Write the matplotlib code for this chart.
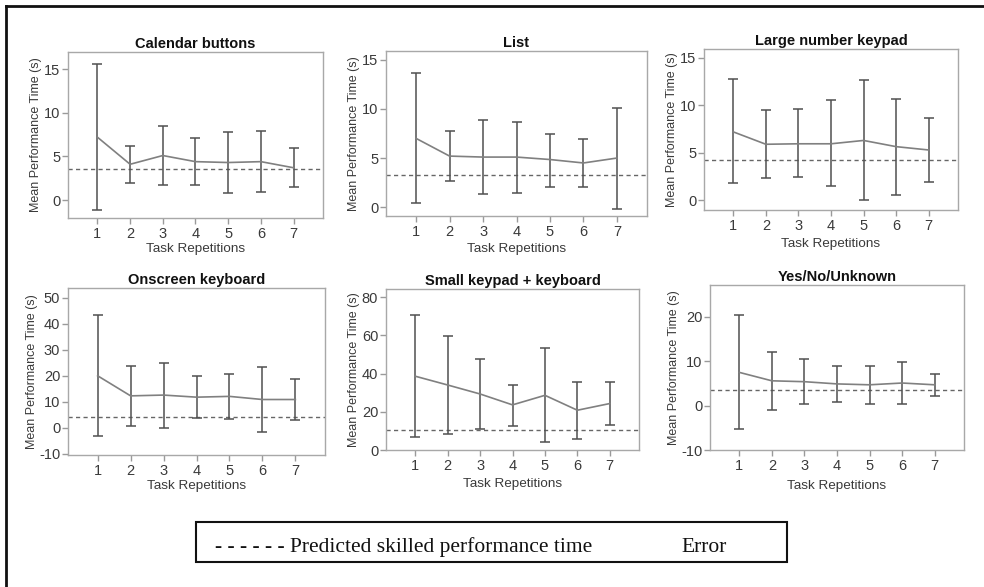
import matplotlib
matplotlib.use("Agg")
import matplotlib.pyplot as plt
from matplotlib.patches import Rectangle
from matplotlib.lines import Line2D

plt.rcParams['font.family'] = ['Liberation Sans', 'DejaVu Sans']
plt.rcParams['axes.unicode_minus'] = False

W, H = 984, 587

repetitions = [1, 2, 3, 4, 5, 6, 7]

titles = ["Calendar buttons", "List", "Large number keypad",
          "Onscreen keyboard", "Small keypad + keyboard", "Yes/No/Unknown"]

cal_mean = [7.2, 4.1, 5.1, 4.4, 4.3, 4.4, 3.7]
cal_upper = [15.6, 6.2, 8.5, 7.1, 7.8, 7.9, 6.0]
cal_lower = [-1.1, 2.0, 1.7, 1.7, 0.8, 0.9, 1.5]
cal_pred = 3.55

list_mean = [7.0, 5.2, 5.1, 5.1, 4.85, 4.5, 5.0]
list_upper = [13.7, 7.8, 8.9, 8.7, 7.5, 6.9, 10.1]
list_lower = [0.4, 2.65, 1.3, 1.45, 2.1, 2.1, -0.15]
list_pred = 3.25

lnk_mean = [7.2, 5.9, 5.95, 5.95, 6.3, 5.65, 5.3]
lnk_upper = [12.7, 9.5, 9.55, 10.5, 12.6, 10.6, 8.7]
lnk_lower = [1.8, 2.4, 2.5, 1.5, 0.0, 0.55, 1.95]
lnk_pred = 4.3

osk_mean = [20.0, 12.3, 12.6, 11.8, 12.1, 10.9, 10.9]
osk_upper = [43.5, 23.8, 24.9, 19.8, 20.5, 23.5, 18.8]
osk_lower = [-3.2, 0.8, 0.0, 3.9, 3.6, -1.5, 3.2]
osk_pred = 4.3

skk_mean = [38.6, 34.0, 29.3, 23.6, 28.6, 20.8, 24.3]
skk_upper = [70.4, 59.7, 47.8, 34.2, 53.3, 35.8, 35.6]
skk_lower = [6.8, 8.2, 11.2, 12.7, 4.2, 5.6, 12.9]
skk_pred = 10.5

ynu_mean = [7.5, 5.6, 5.4, 4.9, 4.7, 5.1, 4.7]
ynu_upper = [20.5, 12.2, 10.6, 9.0, 9.0, 9.85, 7.1]
ynu_lower = [-5.3, -1.05, 0.3, 0.75, 0.3, 0.45, 2.2]
ynu_pred = 3.6

means = [cal_mean, list_mean, lnk_mean, osk_mean, skk_mean, ynu_mean]
uppers = [cal_upper, list_upper, lnk_upper, osk_upper, skk_upper, ynu_upper]
lowers = [cal_lower, list_lower, lnk_lower, osk_lower, skk_lower, ynu_lower]
preds = [cal_pred, list_pred, lnk_pred, osk_pred, skk_pred, ynu_pred]

yticks = [[0, 5, 10, 15], [0, 5, 10, 15], [0, 5, 10, 15],
          [-10, 0, 10, 20, 30, 40, 50], [0, 20, 40, 60, 80], [-10, 0, 10, 20]]
ylims = [(-2.05, 16.95), (-0.9, 15.9), (-1.0, 15.9),
         (-10.4, 53.7), (0, 84.2), (-10, 27.2)]

# axes boxes in pixels: left, right, top, bottom
boxes = [(68, 323, 52, 218), (386, 647, 51, 216), (704, 958, 49, 210),
         (68, 325, 288, 455), (386, 639, 289, 450), (710, 964, 285, 450)]
# label centre offsets in pixels (ylabel x offset from left, xlabel y offset below)
ylab_dx = [-32, -32, -32, -36, -32, -36]
xlab_dy = [31, 33, 34, 31, 34, 36]

fig = plt.figure(figsize=(W / 100, H / 100), dpi=100)
fig.patch.set_facecolor('white')

frame_col = '#a8a8a8'
tick_col = '#9a9a9a'
text_col = '#3a3a3a'

for i in range(6):
    l, r, t, b = boxes[i]
    aw, ah = r - l, b - t
    ax = fig.add_axes([l / W, 1 - b / H, aw / W, ah / H])
    m = means[i]
    up = [u - v for u, v in zip(uppers[i], m)]
    lo = [v - w for v, w in zip(m, lowers[i])]
    ax.errorbar(repetitions, m, yerr=[lo, up], fmt='none', ecolor='#505050',
                elinewidth=1.1, capsize=3.4, capthick=1.1, zorder=3)
    ax.plot(repetitions, m, color='#808080', lw=1.2, zorder=4)
    ax.axhline(preds[i], color='#666666', lw=1.0, ls=(0, (3, 2.4)), zorder=2)
    ax.set_xlim(0.1, 7.9)
    ax.set_ylim(*ylims[i])
    ax.set_xticks(repetitions)
    ax.set_yticks(yticks[i])
    for s in ax.spines.values():
        s.set_color(frame_col)
        s.set_linewidth(1.0)
    ax.tick_params(axis='both', colors=tick_col, labelcolor=text_col,
                   labelsize=10.5, length=4.6, width=1.0)
    ax.tick_params(axis='y', pad=1.0)
    ax.tick_params(axis='x', pad=2.0)
    ax.set_title(titles[i], fontsize=10.5, fontweight='bold', color='#111111', pad=3)
    ax.set_xlabel('Task Repetitions', fontsize=9.7, color=text_col)
    ax.set_ylabel('Mean Performance Time (s)', fontsize=9.0, color=text_col)
    ax.yaxis.label.set_va('center')
    ax.xaxis.label.set_va('center')
    ax.yaxis.set_label_coords(ylab_dx[i] / aw, 0.5)
    ax.xaxis.set_label_coords(0.5, -xlab_dy[i] / ah)

# outer frame (left and top edges)
fig.add_artist(Line2D([6 / W, 6 / W], [0, 1 - 6 / H], transform=fig.transFigure,
                      color='#111111', lw=2))
fig.add_artist(Line2D([6 / W, 1], [1 - 6 / H, 1 - 6 / H], transform=fig.transFigure,
                      color='#111111', lw=2))

# legend box
fig.add_artist(Rectangle((196 / W, 1 - 562 / H), (787 - 196) / W, 40 / H,
                         transform=fig.transFigure, fill=False, ec='#111111', lw=1.5))
fig.text(215 / W, 1 - 552 / H, '- - - - - - Predicted skilled performance time',
         family='Liberation Serif', fontsize=15.5, va='baseline', ha='left', color='#111111')
fig.text(681 / W, 1 - 552 / H, 'Error', family='Liberation Serif', fontsize=15.5,
         va='baseline', ha='left', color='#111111')

fig.savefig('out.png', dpi=100, facecolor='white')
